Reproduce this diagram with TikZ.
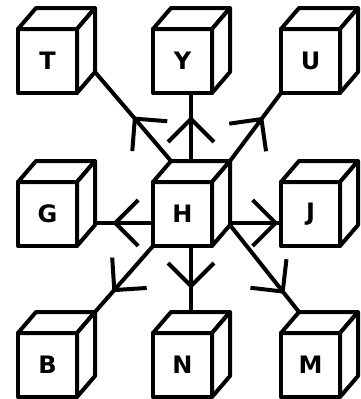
\documentclass[tikz,border=0pt]{standalone}
\usepackage{fontspec}
\setsansfont{DejaVu Sans}
\usetikzlibrary{arrows.meta, decorations.markings}

\begin{document}
\begin{tikzpicture}[
  x=1pt, y=-1pt,
  face/.style={draw, line width=4pt, fill=white, line join=round},
  letter/.style={font=\sffamily\bfseries\fontsize{24}{24}\selectfont, inner sep=0pt},
  link/.style={line width=4pt, postaction={decorate},
    decoration={markings, mark=at position #1 with
      {\arrow[line width=4pt]{Straight Barb[length=23pt, width=46pt]}}}},
  pics/cube/.style={code={
    \draw[face] (0,0) rectangle (59,64);
    \draw[face] (0,0) -- (18,-21) -- (77,-21) -- (59,0) -- cycle;
    \draw[face] (59,0) -- (77,-21) -- (77,43) -- (59,64) -- cycle;
    \node[letter] (-lbl) at (29.5,32) {#1};
    \coordinate (-btl) at (18,-21);
    \coordinate (-btr) at (77,-21);
    \coordinate (-bbr) at (77,43);
    \coordinate (-fbl) at (0,64);
    \coordinate (-tm) at (38,-21);
    \coordinate (-bm) at (38,64);
    \coordinate (-lm) at (0,41);
    \coordinate (-rm) at (77,41);
  }},
]
  \useasboundingbox (0,0) rectangle (360,399);
  \clip (0,0) rectangle (360,399);

  \pic (T) at (18,29) {cube=T};
  \pic (Y) at (153,29) {cube=Y};
  \pic (U) at (281,29) {cube=U};
  \pic (G) at (18,182) {cube=G};
  \pic (H) at (153,182) {cube=H};
  \pic (J) at (281,182) {cube=J};
  \pic (B) at (18,333) {cube=B};
  \pic (N) at (153,333) {cube=N};
  \pic (M) at (281,333) {cube=M};

  \draw[link=0.5] (H-btl) -- (T-bbr);
  \draw[link=0.66] (H-tm) -- (Y-bm);
  \draw[link=0.65] (H-btr) -- (U-fbl);
  \draw[link=0.7] (H-lm) -- (G-rm);
  \draw[link=0.95] (H-rm) -- (J-lm);
  \draw[link=0.7] (H-fbl) -- (B-btr);
  \draw[link=0.65] (H-bm) -- (N-tm);
  \draw[link=0.79] (H-bbr) -- (M-btl);
\end{tikzpicture}
\end{document}
